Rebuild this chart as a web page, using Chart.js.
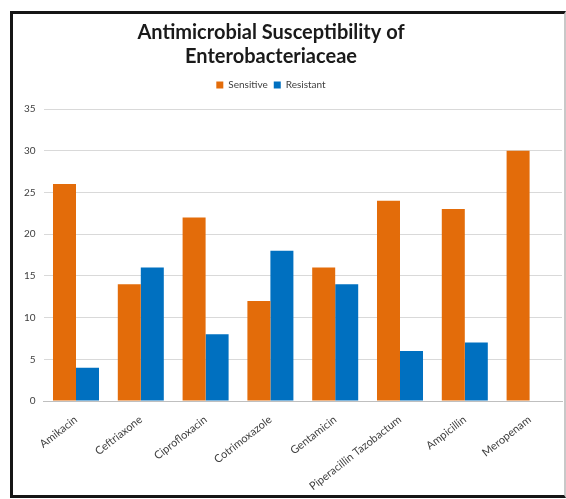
<!DOCTYPE html>
<html>
<head>
<meta charset="utf-8">
<script src="https://cdn.jsdelivr.net/npm/chart.js@4.4.1/dist/chart.umd.min.js"></script>
<style>
    body { margin: 0; background: #fff; }
    #frame {
        position: absolute;
        left: 10px;
        top: 11px;
        width: 551px;
        height: 481px;
        border-left: 3px solid #151515;
        border-top: 3px solid #151515;
        border-bottom: 3px solid #151515;
        border-right: 2px solid #c8c8c8;
        background: #fff;
    }
    canvas { display: block; }
</style>
</head>
<body>
<div id="frame"><canvas id="chart" width="551" height="481"></canvas></div>
<script>
const drugs = [
    "Amikacin", "Ceftriaxone", "Ciprofloxacin", "Cotrimoxazole",
    "Gentamicin", "Piperacillin Tazobactum", "Ampicillin", "Meropenam"
];
const sensitive = [26, 14, 22, 12, 16, 24, 23, 30];
const resistant = [4, 16, 8, 18, 14, 6, 7, 0];
const yTicks = [0, 5, 10, 15, 20, 25, 30, 35];

// title + legend sit a bit left of the canvas centre in the original,
// and there is a bigger gap under the legend
const headerTweak = {
    id: "headerTweak",
    beforeInit(chart) {
        const lg = chart.legend;
        if (lg) {
            const fit = lg.fit;
            lg.fit = function () {
                fit.call(this);
                this.height += 9;
            };
        }
    },
    afterLayout(chart) {
        [chart.titleBlock, chart.legend].forEach(b => {
            if (!b) return;
            b.right -= 36;
            b.width -= 36;
        });
    }
};

const ctx = document.getElementById("chart").getContext("2d");
new Chart(ctx, {
    type: "bar",
    data: {
        labels: drugs,
        datasets: [
            {
                label: "Sensitive",
                data: sensitive,
                backgroundColor: "#E36C0A",
                categoryPercentage: 0.71,
                barPercentage: 1
            },
            {
                label: "Resistant",
                data: resistant,
                backgroundColor: "#0070C0",
                categoryPercentage: 0.71,
                barPercentage: 1
            }
        ]
    },
    options: {
        responsive: false,
        animation: false,
        layout: { padding: { left: 3, right: 2, top: 4, bottom: 0 } },
        plugins: {
            title: {
                display: true,
                text: ["Antimicrobial Susceptibility of", "Enterobacteriaceae"],
                color: "#1a1a1a",
                font: { family: "Lato", size: 20, weight: "bold", lineHeight: 1.2 },
                padding: { top: 3, bottom: 5 }
            },
            legend: {
                position: "top",
                labels: {
                    boxWidth: 7,
                    boxHeight: 7,
                    padding: 6,
                    color: "#404040",
                    font: { family: "Lato", size: 10 }
                }
            },
            tooltip: { enabled: false }
        },
        scales: {
            x: {
                grid: { display: false, drawTicks: false },
                border: { color: "#bfbfbf" },
                afterFit: (axis) => { axis.height = 94; },
                ticks: {
                    color: "#404040",
                    font: { family: "Lato", size: 11 },
                    minRotation: 38,
                    maxRotation: 38,
                    autoSkip: false,
                    padding: 12
                }
            },
            y: {
                min: 0,
                max: 35,
                afterBuildTicks: (axis) => { axis.ticks = yTicks.map(v => ({ value: v })); },
                grid: { color: "#d9d9d9", drawTicks: false },
                border: { display: false },
                ticks: {
                    color: "#404040",
                    font: { family: "Lato", size: 10 },
                    padding: 8
                }
            }
        }
    },
    plugins: [headerTweak]
});
</script>
</body>
</html>
